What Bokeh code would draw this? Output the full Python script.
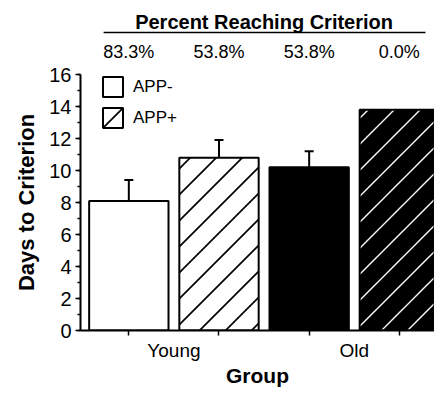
import base64
from bokeh.plotting import figure
from bokeh.layouts import column
from bokeh.models import (ColumnDataSource, Whisker, TeeHead, Legend, LegendItem,
                          FixedTicker, SingleIntervalTicker, Range1d, ImageURLTexture)
from bokeh.core.properties import value
from bokeh.embed import file_html
from bokeh.resources import INLINE

# ---- data ----
groups = ["Young", "Old"]
genotypes = ["APP-", "APP+"]
app_neg_days = [8.1, 10.2]
app_neg_sem = [1.3, 1.0]
app_pos_days = [10.8, 13.8]
app_pos_sem = [1.1, 0.0]
percent_reaching = ["83.3%", "53.8%", "53.8%", "0.0%"]
y_ticks_max = 16

FONT = "Liberation Sans"

neg_x = [gi * 2 + 0 for gi in range(len(groups))]
pos_x = [gi * 2 + 1 for gi in range(len(groups))]
group_centers = [gi * 2 + 0.5 for gi in range(len(groups))]
all_x = sorted(neg_x + pos_x)


def tile(color, h=26, w=1.6):
    svg = (f'<svg xmlns="http://www.w3.org/2000/svg" width="{h}" height="{h}">'
           f'<path d="M-2 {h+2} L{h+2} -2 M-2 2 L2 -2 M{h-2} {h+2} L{h+2} {h-2}" '
           f'stroke="{color}" stroke-width="{w}" fill="none"/></svg>')
    return "data:image/svg+xml;base64," + base64.b64encode(svg.encode()).decode()


hatch_textures = {
    "diag_black": ImageURLTexture(url=tile("black", w=1.7), repetition="repeat"),
    "diag_white": ImageURLTexture(url=tile("white", w=1.4), repetition="repeat"),
}

neg_src = ColumnDataSource(dict(x=neg_x, top=app_neg_days, fill=["white", "black"]))
pos_src = ColumnDataSource(dict(x=pos_x, top=app_pos_days, fill=["white", "black"],
                                hatch=["diag_black", "diag_white"]))

x_range = Range1d(-0.536, 3.39)

# ---------- header: percent reaching criterion ----------
HEAD_H = 62
head = figure(width=434, height=HEAD_H, output_backend="svg", toolbar_location=None,
              x_range=x_range, y_range=Range1d(0, HEAD_H),
              min_border_left=80, min_border_right=0, min_border_top=0,
              min_border_bottom=0)
head.axis.visible = False
head.xgrid.visible = False
head.ygrid.visible = False
head.outline_line_color = None

mid = sum(all_x) / len(all_x)
head.text(x=[mid], y=[HEAD_H - 21.5], text=["Percent Reaching Criterion"],
          text_font=value(FONT), text_font_style="bold", text_font_size="20px",
          text_align="center", text_baseline="middle", text_color="black")
head.segment(x0=[all_x[0] - 0.28], x1=[all_x[-1] + 0.29], y0=[HEAD_H - 32], y1=[HEAD_H - 32],
             line_color="black", line_width=1.5)
head.text(x=all_x, y=[HEAD_H - 51.5] * len(all_x), text=percent_reaching,
          text_font=value(FONT), text_font_size="18px",
          text_align="center", text_baseline="middle", text_color="black")

# ---------- main bar chart ----------
p = figure(width=434, height=394 - HEAD_H, output_backend="svg", toolbar_location=None,
           x_range=x_range, y_range=Range1d(0, y_ticks_max),
           min_border_left=80, min_border_right=0, min_border_top=74 - HEAD_H,
           min_border_bottom=64)
p.outline_line_color = None
p.xgrid.visible = False
p.ygrid.visible = False
p.background_fill_color = "white"

BW = 0.88
r_neg = p.vbar(x="x", top="top", width=BW, bottom=0, source=neg_src,
               fill_color="fill", line_color="black", line_width=2)
r_pos = p.vbar(x="x", top="top", width=BW, bottom=0, source=pos_src,
               fill_color="fill", line_color="black", line_width=2,
               hatch_pattern="hatch", hatch_extra=hatch_textures)

ex, elo, eup = [], [], []
for xs, ds, ss in ((neg_x, app_neg_days, app_neg_sem), (pos_x, app_pos_days, app_pos_sem)):
    for xx, d, s in zip(xs, ds, ss):
        if s > 0:
            ex.append(xx); elo.append(d); eup.append(d + s)
err_src = ColumnDataSource(dict(x=ex, lower=elo, upper=eup))
p.add_layout(Whisker(source=err_src, base="x", lower="lower", upper="upper",
                     dimension="height", line_color="black", line_width=2,
                     lower_head=None,
                     upper_head=TeeHead(size=9, line_color="black", line_width=2)))

legend = Legend(items=[LegendItem(label=genotypes[0], renderers=[r_neg], index=0),
                       LegendItem(label=genotypes[1], renderers=[r_pos], index=0)],
                location=(20, 200), orientation="vertical",
                glyph_width=25, glyph_height=25, label_height=25,
                label_standoff=8, spacing=6, padding=0, margin=0,
                border_line_color=None, background_fill_alpha=0,
                label_text_font=FONT, label_text_font_size="17px",
                label_text_color="black")
p.add_layout(legend)

ya = p.yaxis[0]
ya.ticker = SingleIntervalTicker(interval=2, num_minor_ticks=2)
ya.axis_label = "Days to Criterion"
ya.axis_label_text_font = FONT
ya.axis_label_text_font_style = "bold"
ya.axis_label_text_font_size = "22px"
ya.axis_label_text_color = "black"
ya.axis_label_standoff = 7
ya.major_label_text_font = FONT
ya.major_label_text_font_size = "20px"
ya.major_label_text_color = "black"
ya.major_label_standoff = 4
ya.axis_line_width = 2
ya.major_tick_in = 0
ya.major_tick_out = 5
ya.minor_tick_in = 0
ya.minor_tick_out = 3
ya.major_tick_line_width = 1.5
ya.minor_tick_line_width = 1.5

xa = p.xaxis[0]
xa.ticker = FixedTicker(ticks=group_centers, minor_ticks=all_x)
xa.major_label_overrides = {c: g for c, g in zip(group_centers, groups)}
xa.axis_label = "Group"
xa.axis_label_text_font = FONT
xa.axis_label_text_font_style = "bold"
xa.axis_label_text_font_size = "21px"
xa.axis_label_text_color = "black"
xa.axis_label_standoff = 0
xa.major_label_text_font = FONT
xa.major_label_text_font_size = "19px"
xa.major_label_text_color = "black"
xa.major_label_standoff = 4
xa.axis_line_width = 2
xa.major_tick_line_color = None
xa.major_tick_in = 0
xa.major_tick_out = 5
xa.minor_tick_in = 0
xa.minor_tick_out = 5
xa.minor_tick_line_width = 1.5

layout = column(head, p, spacing=0)
open("out.html", "w").write(file_html(layout, INLINE))
